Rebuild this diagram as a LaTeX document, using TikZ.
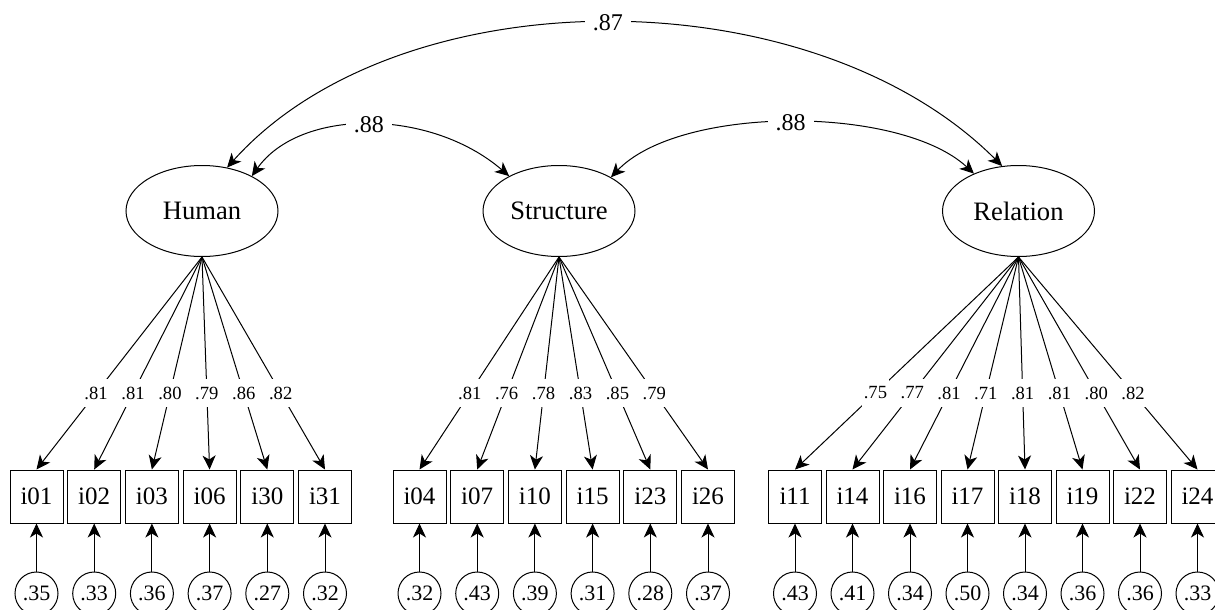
\documentclass[tikz,border=0pt]{standalone}
\usepackage{fontspec}
\setmainfont{Liberation Serif}
\usepackage{tikz}
\usetikzlibrary{arrows.meta,positioning,shapes.geometric}
\tikzstyle{latent}=[ellipse,draw=black,minimum width=76pt,minimum height=45.5pt,
inner sep=0pt,font=\fontsize{13.3}{15}\selectfont]
\tikzstyle{item}=[rectangle,draw=black,minimum size=26.5pt,inner sep=0pt,
font=\fontsize{12.5}{14}\selectfont]
\tikzstyle{resid}=[circle,draw=black,minimum size=21.5pt,inner sep=0pt,
font=\fontsize{11}{12}\selectfont]
\tikzstyle{load}=[fill=white,inner xsep=1pt,inner ysep=4pt,
font=\fontsize{9.3}{11}\selectfont]
\tikzstyle{corr}=[fill=white,inner xsep=4pt,inner ysep=2pt,
font=\fontsize{12}{14}\selectfont]

\begin{document}
\begin{tikzpicture}[x=0.5pt,y=-0.5pt,line width=0.5pt,
    >={Stealth[length=7pt,width=6.5pt,inset=2pt]}]
    \useasboundingbox (0,0) rectangle (1215,610);
    % Factors
    \node (hum) [latent] at (202,211)    {Human};
    \node (str) [latent] at (559,211)    {Structure};
    \node (rel) [latent] at (1018.5,211) {Relation};
    % Items of Human
    \node (i01) [item] at (36.5,496.5) {i01};
    \node (i02) [item, right=1.85pt of i01] {i02};
    \node (i03) [item, right=1.85pt of i02] {i03};
    \node (i06) [item, right=1.85pt of i03] {i06};
    \node (i30) [item, right=1.85pt of i06] {i30};
    \node (i31) [item, right=1.85pt of i30] {i31};
    % Items of Structure
    \node (i04) [item] at (419.5,496.5) {i04};
    \node (i07) [item, right=1.85pt of i04] {i07};
    \node (i10) [item, right=1.85pt of i07] {i10};
    \node (i15) [item, right=1.85pt of i10] {i15};
    \node (i23) [item, right=1.85pt of i15] {i23};
    \node (i26) [item, right=1.85pt of i23] {i26};
    % Items of Relation
    \node (i11) [item] at (795,496.5) {i11};
    \node (i14) [item, right=1.75pt of i11] {i14};
    \node (i16) [item, right=1.75pt of i14] {i16};
    \node (i17) [item, right=1.75pt of i16] {i17};
    \node (i18) [item, right=1.75pt of i17] {i18};
    \node (i19) [item, right=1.75pt of i18] {i19};
    \node (i22) [item, right=1.75pt of i19] {i22};
    \node (i24) [item, right=1.75pt of i22] {i24};
    % Residuals
    \node (e01) [resid, below=24pt of i01] {.35};
    \node (e02) [resid, below=24pt of i02] {.33};
    \node (e03) [resid, below=24pt of i03] {.36};
    \node (e06) [resid, below=24pt of i06] {.37};
    \node (e30) [resid, below=24pt of i30] {.27};
    \node (e31) [resid, below=24pt of i31] {.32};
    \node (e04) [resid, below=24pt of i04] {.32};
    \node (e07) [resid, below=24pt of i07] {.43};
    \node (e10) [resid, below=24pt of i10] {.39};
    \node (e15) [resid, below=24pt of i15] {.31};
    \node (e23) [resid, below=24pt of i23] {.28};
    \node (e26) [resid, below=24pt of i26] {.37};
    \node (e11) [resid, below=24pt of i11] {.43};
    \node (e14) [resid, below=24pt of i14] {.41};
    \node (e16) [resid, below=24pt of i16] {.34};
    \node (e17) [resid, below=24pt of i17] {.50};
    \node (e18) [resid, below=24pt of i18] {.34};
    \node (e19) [resid, below=24pt of i19] {.36};
    \node (e22) [resid, below=24pt of i22] {.36};
    \node (e24) [resid, below=24pt of i24] {.33};
    % Loadings
    \path[->]
    (hum.south) edge node[load,pos=0.64] {.81} (i01.north)
    (hum.south) edge node[load,pos=0.64] {.81} (i02.north)
    (hum.south) edge node[load,pos=0.64] {.80} (i03.north)
    (hum.south) edge node[load,pos=0.64] {.79} (i06.north)
    (hum.south) edge node[load,pos=0.64] {.86} (i30.north)
    (hum.south) edge node[load,pos=0.64] {.82} (i31.north)

    (str.south) edge node[load,pos=0.64] {.81} (i04.north)
    (str.south) edge node[load,pos=0.64] {.76} (i07.north)
    (str.south) edge node[load,pos=0.64] {.78} (i10.north)
    (str.south) edge node[load,pos=0.64] {.83} (i15.north)
    (str.south) edge node[load,pos=0.64] {.85} (i23.north)
    (str.south) edge node[load,pos=0.64] {.79} (i26.north)

    (rel.south) edge node[load,pos=0.64] {.75} (i11.north)
    (rel.south) edge node[load,pos=0.64] {.77} (i14.north)
    (rel.south) edge node[load,pos=0.64] {.81} (i16.north)
    (rel.south) edge node[load,pos=0.64] {.71} (i17.north)
    (rel.south) edge node[load,pos=0.64] {.81} (i18.north)
    (rel.south) edge node[load,pos=0.64] {.81} (i19.north)
    (rel.south) edge node[load,pos=0.64] {.80} (i22.north)
    (rel.south) edge node[load,pos=0.64] {.82} (i24.north)
    ;
    % Residual paths
    \path[->]
    (e01) edge (i01) (e02) edge (i02) (e03) edge (i03)
    (e06) edge (i06) (e30) edge (i30) (e31) edge (i31)
    (e04) edge (i04) (e07) edge (i07) (e10) edge (i10)
    (e15) edge (i15) (e23) edge (i23) (e26) edge (i26)
    (e11) edge (i11) (e14) edge (i14) (e16) edge (i16) (e17) edge (i17)
    (e18) edge (i18) (e19) edge (i19) (e22) edge (i22) (e24) edge (i24)
    ;
    % Factor correlations
    \draw[<->] (hum.60) .. controls (400,-25) and (811,-25) .. node[corr] {.87} (rel.110);
    \draw[<->] (hum.35) .. controls (300,108) and (430,108) .. node[corr] {.88} (str.145);
    \draw[<->] (str.33) .. controls (680,105) and (900,105) .. node[corr] {.88} (rel.140);
  \end{tikzpicture}
\end{document}
